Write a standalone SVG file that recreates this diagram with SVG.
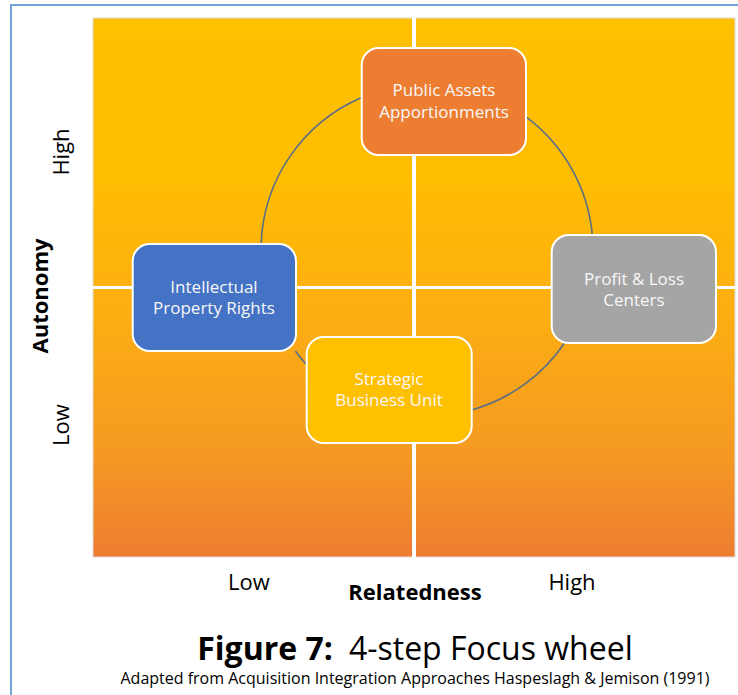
<svg xmlns="http://www.w3.org/2000/svg" width="738" height="695" viewBox="0 0 738 695">
  <defs>
    <linearGradient id="bg" x1="0" y1="0" x2="0" y2="1">
      <stop offset="0" stop-color="#FFC000"/>
      <stop offset="0.3" stop-color="#FFBD02"/>
      <stop offset="0.55" stop-color="#FCAE12"/>
      <stop offset="0.8" stop-color="#F59A22"/>
      <stop offset="1" stop-color="#ED7D31"/>
    </linearGradient>
    <style>
      .node rect { stroke: #FFFFFF; stroke-width: 2; }
      .node text { font-family: "Open Sans", "Liberation Sans", sans-serif; font-size: 17px; fill: #F8F8F8; text-anchor: middle; }
      .conn path { fill: none; stroke: #5A6F86; stroke-width: 1.6; }
      .axis { font-family: "Open Sans", "Liberation Sans", sans-serif; font-size: 22px; fill: #000000; text-anchor: middle; }
      .bold { font-weight: bold; }
    </style>
  </defs>
  <rect x="0" y="0" width="738" height="695" fill="#FFFFFF"/>
  <!-- frame -->
  <path d="M11,700 V5 H745" fill="none" stroke="#6FA3DC" stroke-width="2"/>
  <!-- quadrants -->
  <g id="matrix">
    <rect x="93" y="18" width="642" height="539" fill="url(#bg)" stroke="#DCDCDC" stroke-width="1"/>
    <line x1="414" y1="17" x2="414" y2="558" stroke="#FFFFFF" stroke-width="4"/>
    <line x1="92" y1="287.5" x2="736" y2="287.5" stroke="#FFFFFF" stroke-width="3"/>
  </g>
  <!-- connectors -->
  <g id="connectors" class="conn">
    <path d="M361.7,97.4 A166,166 0 0 0 261.1,244"/>
    <path d="M295.3,351 A166,166 0 0 0 306.7,364.7"/>
    <path d="M471.7,409.9 A166,166 0 0 0 564.5,343"/>
    <path d="M592.3,235 A166,166 0 0 0 526,116.8"/>
  </g>
  <!-- nodes -->
  <g id="public-assets" class="node">
    <rect x="361.7" y="48" width="164.3" height="107" rx="17" fill="#ED7D31"/>
    <text x="444" y="96">Public Assets</text>
    <text x="444" y="118">Apportionments</text>
  </g>
  <g id="ip-rights" class="node">
    <rect x="132.7" y="244" width="163.3" height="107" rx="17" fill="#4472C4"/>
    <text x="214" y="293">Intellectual</text>
    <text x="214" y="314">Property Rights</text>
  </g>
  <g id="profit-loss" class="node">
    <rect x="551.7" y="235" width="164.3" height="108" rx="17" fill="#A5A5A5"/>
    <text x="634" y="285">Profit &amp; Loss</text>
    <text x="634" y="306">Centers</text>
  </g>
  <g id="sbu" class="node">
    <rect x="306.7" y="337" width="165" height="106" rx="17" fill="#FFC000"/>
    <text x="389" y="385">Strategic</text>
    <text x="389" y="406">Business Unit</text>
  </g>
  <!-- axis labels -->
  <g id="labels">
    <text class="axis" transform="translate(69,152) rotate(-90)">High</text>
    <text class="axis bold" transform="translate(48,296) rotate(-90)" font-size="23">Autonomy</text>
    <text class="axis" transform="translate(69,425) rotate(-90)">Low</text>
    <text class="axis" x="249" y="590">Low</text>
    <text class="axis bold" x="415" y="600">Relatedness</text>
    <text class="axis" x="572" y="590">High</text>
    <text x="415" y="660" font-family="'Open Sans', 'Liberation Sans', sans-serif" font-size="32" text-anchor="middle" fill="#000000"><tspan font-weight="bold">Figure 7:</tspan><tspan dx="16">4-step Focus wheel</tspan></text>
    <text x="415" y="684" font-family="'Open Sans', 'Liberation Sans', sans-serif" font-size="16" text-anchor="middle" fill="#000000">Adapted from Acquisition Integration Approaches Haspeslagh &amp; Jemison (1991)</text>
  </g>
</svg>
